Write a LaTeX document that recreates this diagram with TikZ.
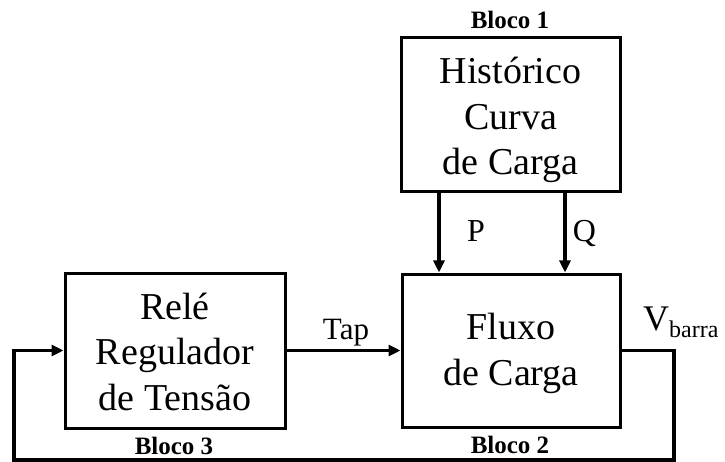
\documentclass[tikz,border=0pt]{standalone}
\usepackage{fontspec}
\setmainfont{Liberation Serif}
\usetikzlibrary{arrows.meta}
\tikzset{
  blockbox/.style={draw, line width=3pt, inner sep=0pt},
  blocktext/.style={inner sep=0pt, align=center, font=\fontsize{38}{45.5}\selectfont},
  conn/.style={line width=3.5pt},
  arr/.style={conn, -{Triangle[length=12pt,width=11pt]}},
  blocklabel/.style={font=\fontsize{25}{28}\selectfont\bfseries, inner sep=0pt, anchor=base},
  siglabel/.style={font=\fontsize{32}{36}\selectfont, inner sep=0pt, anchor=base}
}
\begin{document}
\begin{tikzpicture}[x=1pt,y=-1pt]
\useasboundingbox (0,0) rectangle (725,462);
\node[blockbox, minimum width=219pt, minimum height=154pt] (b1) at (510.5,115) {};
\node[blockbox, minimum width=218pt, minimum height=153pt] (b2) at (511,350.5) {};
\node[blockbox, minimum width=220pt, minimum height=155pt] (b3) at (175,350.5) {};
\node[blocktext] (t1) at ([yshift=-5pt]b1.center) {Histórico\\Curva\\de Carga};
\node[blocktext] (t2) at ([yshift=-3pt]b2.center) {Fluxo\\de Carga};
\node[blocktext] (t3) at ([yshift=-1pt]b3.center) {Relé\\Regulador\\de Tensão};
\node[blocklabel] (l1) at (510,29) {Bloco 1};
\node[blocklabel] (l2) at (510,453) {Bloco 2};
\node[blocklabel] (l3) at (174,454) {Bloco 3};
\coordinate (px) at (439,0);
\coordinate (qx) at (565,0);
\coordinate (c1) at (674,460);
\coordinate (c2) at (14,460);
\draw[arr] (b1.south -| px) -- (b2.north -| px);
\draw[arr] (b1.south -| qx) -- (b2.north -| qx);
\draw[arr] (b3.east) -- (b2.west);
\draw[arr] (b2.east) -| (c1) -- (c2) |- (b3.west);
\node[siglabel] (lp) at (476,242) {P};
\node[siglabel] (lq) at (584.5,242) {Q};
\node[font=\fontsize{31}{34}\selectfont, inner sep=0pt, anchor=base] (lt) at (346,339) {Tap};
\node[inner sep=0pt, anchor=base west] (lv) at (643,330) {\fontsize{36}{40}\selectfont V\raisebox{-7pt}{\fontsize{24}{28}\selectfont barra}};
\end{tikzpicture}
\end{document}
